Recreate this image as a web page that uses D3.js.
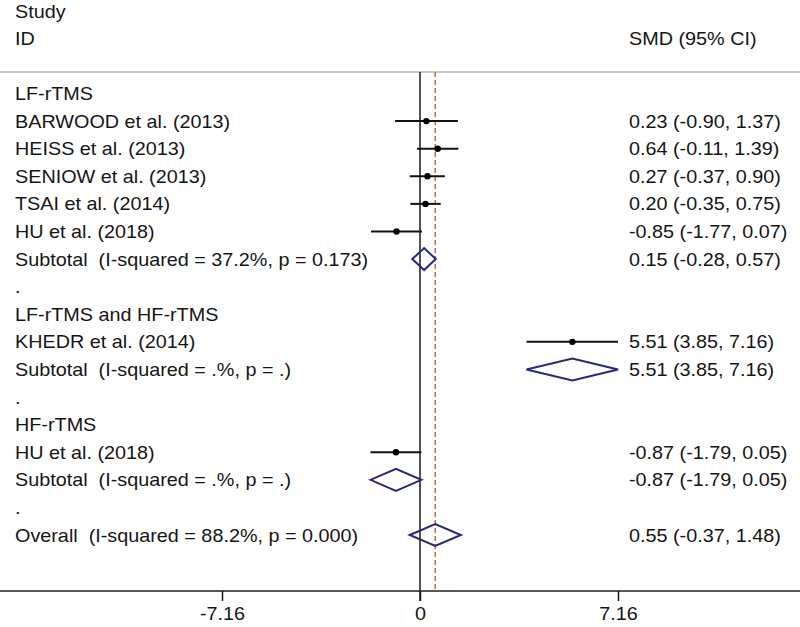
<!DOCTYPE html>
<html>
<head>
<meta charset="utf-8">
<script src="https://cdnjs.cloudflare.com/ajax/libs/d3/7.8.5/d3.min.js"></script>
<style>
    body { margin: 0; background: #fff; }
    svg text { font-family: "Liberation Sans", Arial, sans-serif; font-size: 18px; fill: #151515; white-space: pre; }
</style>
</head>
<body>
<svg id="chart" width="800" height="627"></svg>
<script>
var labels = [
    "LF-rTMS",
    "BARWOOD et al. (2013)",
    "HEISS et al. (2013)",
    "SENIOW et al. (2013)",
    "TSAI et al. (2014)",
    "HU et al. (2018)",
    "Subtotal  (I-squared = 37.2%, p = 0.173)",
    ".",
    "LF-rTMS and HF-rTMS",
    "KHEDR et al. (2014)",
    "Subtotal  (I-squared = .%, p = .)",
    ".",
    "HF-rTMS",
    "HU et al. (2018)",
    "Subtotal  (I-squared = .%, p = .)",
    ".",
    "Overall  (I-squared = 88.2%, p = 0.000)"
];
// study = point + CI line, pooled = diamond, null = label only
var kinds = [null, "study", "study", "study", "study", "study", "pooled", null,
    null, "study", "pooled", null, null, "study", "pooled", null, "pooled"];
var smd = [null, 0.23, 0.64, 0.27, 0.20, -0.85, 0.15, null, null, 5.51, 5.51, null, null, -0.87, -0.87, null, 0.55];
var lower = [null, -0.90, -0.11, -0.37, -0.35, -1.77, -0.28, null, null, 3.85, 3.85, null, null, -1.79, -1.79, null, -0.37];
var upper = [null, 1.37, 1.39, 0.90, 0.75, 0.07, 0.57, null, null, 7.16, 7.16, null, null, 0.05, 0.05, null, 1.48];
var tickValues = [-7.16, 0, 7.16];
var overallEffect = 0.55;

var w = 800;
var svg = d3.select("#chart");

// plain hyphen minus like the original, not the unicode one d3 uses
var fmt = function (v) {
    return v.toFixed(2);
};

var rows = labels.map(function (d, i) {
    return { label: d, kind: kinds[i], est: smd[i], lo: lower[i], hi: upper[i] };
});

var xScale = d3.scaleLinear().domain([-7.16, 7.16]).range([222, 618]);
var yScale = d3.scaleLinear().domain([0, rows.length - 1]).range([93.5, 535]);

var headerY = 72, axisY = 591;

// text is a bit wider than plain arial in the original
var stretch = function (x, y) {
    return "translate(" + x + "," + y + ") scale(1.1,1)";
};

// header
svg.append("text").text("Study").attr("transform", stretch(15, 18));
svg.append("text").text("ID").attr("transform", stretch(15, 45));
svg.append("text").text("SMD (95% CI)").attr("transform", stretch(629, 45));

svg.append("line")
    .attr("x1", 0).attr("x2", w)
    .attr("y1", headerY).attr("y2", headerY)
    .attr("stroke", "#b4b4b4").attr("stroke-width", 1.5);

// reference lines
svg.append("line")
    .attr("x1", xScale(0)).attr("x2", xScale(0))
    .attr("y1", headerY).attr("y2", axisY + 10)
    .attr("stroke", "#1a1a1a").attr("stroke-width", 1.5);

svg.append("line")
    .attr("x1", xScale(overallEffect)).attr("x2", xScale(overallEffect))
    .attr("y1", headerY).attr("y2", axisY)
    .attr("stroke", "#d8603c").attr("stroke-width", 1.5)
    .attr("stroke-dasharray", "5,3");

var groups = svg.selectAll("g.row")
    .data(rows)
    .enter()
    .append("g")
    .attr("class", "row")
    .attr("transform", function (d, i) {
        return "translate(0," + yScale(i) + ")";
    });

groups.append("text")
    .text(function (d) { return d.label; })
    .attr("transform", stretch(15, 6.5));

groups.filter(function (d) { return d.kind; })
    .append("text")
    .text(function (d) {
        return fmt(d.est) + " (" + fmt(d.lo) + ", " + fmt(d.hi) + ")";
    })
    .attr("transform", stretch(629, 6.5));

var studies = groups.filter(function (d) { return d.kind === "study"; });

studies.append("line")
    .attr("x1", function (d) { return xScale(d.lo); })
    .attr("x2", function (d) { return xScale(d.hi); })
    .attr("y1", 0).attr("y2", 0)
    .attr("stroke", "#111").attr("stroke-width", 2);

studies.append("circle")
    .attr("cx", function (d) { return xScale(d.est); })
    .attr("cy", 0)
    .attr("r", 3.2)
    .attr("fill", "#000");

groups.filter(function (d) { return d.kind === "pooled"; })
    .append("path")
    .attr("d", function (d) {
        var h = 11;
        return "M" + xScale(d.lo) + ",0L" + xScale(d.est) + "," + (-h) +
            "L" + xScale(d.hi) + ",0L" + xScale(d.est) + "," + h + "Z";
    })
    .attr("fill", "none")
    .attr("stroke", "#26297a")
    .attr("stroke-width", 2);

// x axis
svg.append("line")
    .attr("x1", 0).attr("x2", w)
    .attr("y1", axisY).attr("y2", axisY)
    .attr("stroke", "#2a1d14").attr("stroke-width", 1.5);

var axis = svg.append("g")
    .attr("transform", "translate(0," + axisY + ")")
    .call(d3.axisBottom(xScale)
        .tickValues(tickValues)
        .tickFormat(function (d) { return d === 0 ? "0" : fmt(d); })
        .tickSize(10)
        .tickSizeOuter(0));

axis.select(".domain").remove();
axis.selectAll(".tick line").attr("stroke", "#1a1a1a").attr("stroke-width", 1.5);
axis.selectAll(".tick text")
    .attr("y", null).attr("dy", null)
    .attr("font-family", null).attr("font-size", null)
    .attr("text-anchor", "middle")
    .attr("transform", "translate(0,29) scale(1.1,1)");
</script>
</body>
</html>
